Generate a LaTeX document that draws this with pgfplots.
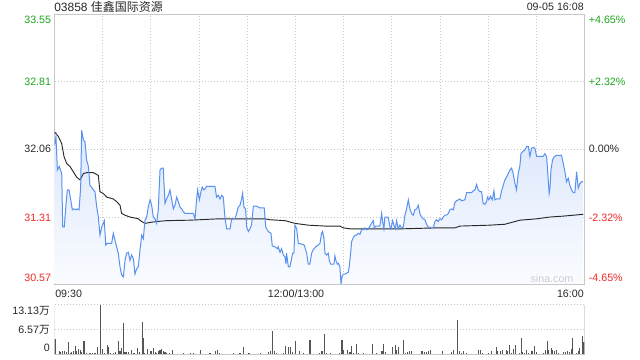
\documentclass[border=0pt]{standalone}
\usepackage{pgfplots}
\pgfplotsset{compat=1.18}
\usepackage{pgfplotstable}
\usepackage{fontspec}
\setmainfont{Liberation Sans}
\newfontfamily\cjk{Noto Sans CJK SC}
\definecolor{pline}{RGB}{88,145,240}
\definecolor{avgc}{RGB}{40,40,40}
\definecolor{gridc}{RGB}{200,200,200}
\definecolor{borderc}{RGB}{200,200,200}
\definecolor{upg}{RGB}{30,165,30}
\definecolor{dnr}{RGB}{240,40,40}
\definecolor{txt}{RGB}{40,40,40}
\definecolor{volc}{RGB}{85,85,85}
\definecolor{fillt}{RGB}{220,231,252}
\definecolor{fillb}{RGB}{250,252,255}
\definecolor{wm}{RGB}{205,205,205}

\pgfplotstableread{
m p
0 32.10
0.9 32.20
1.8 31.83
3.0 31.87
4.5 31.79
5.1 31.20
6.1 31.20
7.2 31.46
8.0 31.61
9.0 31.61
10.1 31.50
11.1 31.39
12.1 31.40
13.2 31.39
14.2 31.40
15.3 31.39
16.3 31.64
16.9 32.27
18.0 32.16
19.0 32.14
20.0 31.94
21.1 31.87
22.1 31.66
23.1 31.64
24.2 31.61
25.2 31.59
26.3 31.42
27.3 31.31
28.3 31.11
29.4 31.20
30.4 31.24
31.0 31.27
31.9 31.00
32.9 31.02
35.6 31.02
36.6 31.13
37.7 31.05
38.7 30.98
39.7 30.91
40.8 30.76
41.8 30.67
42.9 30.65
43.9 30.83
44.9 30.91
46.0 30.92
47.0 30.83
48.0 30.89
49.1 30.85
50.1 30.68
51.2 30.74
52.2 30.76
53.2 30.94
54.3 31.11
55.3 31.07
56.3 31.27
57.4 31.31
58.4 31.42
59.5 31.50
60.5 31.44
61.5 31.31
62.6 31.29
63.6 31.24
64.6 31.39
65.7 31.83
66.7 31.85
67.7 31.85
68.8 31.46
69.8 31.51
70.9 31.55
71.9 31.61
72.9 31.51
74.0 31.40
75.0 31.44
76.1 31.53
77.1 31.48
78.1 31.42
79.2 31.40
80.2 31.37
81.2 31.35
86.4 31.35
87.5 31.29
88.5 31.51
89.1 31.61
90.2 31.50
91.2 31.59
92.0 31.64
93.1 31.61
94.1 31.63
94.7 31.65
99.9 31.65
100.9 31.53
102.0 31.55
103.0 31.51
104.1 31.55
105.1 31.53
106.1 31.31
107.2 31.18
109.3 31.18
110.3 31.29
112.4 31.29
113.4 31.35
114.4 31.42
115.5 31.44
116.5 31.51
117.1 31.57
118.0 31.42
119.0 31.40
119.6 31.20
120.7 31.15
121.7 31.18
122.7 31.22
123.8 31.43
125.9 31.43
127.9 31.41
130.6 31.41
131.5 31.20
133.1 31.15
134.8 31.13
135.6 30.99
137.3 30.98
138.9 30.96
139.3 30.98
140.4 30.92
141.4 30.96
142.5 30.89
143.5 30.87
144.1 30.79
144.5 30.91
145.6 30.76
146.6 30.76
147.6 30.85
148.3 30.91
149.1 30.91
149.7 31.22
150.8 31.18
151.8 31.02
153.9 31.01
155.5 31.00
157.0 30.91
158.0 30.79
159.0 30.79
160.1 30.91
161.1 30.95
163.2 30.99
164.2 31.00
165.3 31.02
166.3 31.13
166.9 31.15
167.8 31.07
168.4 30.91
169.4 30.89
170.5 30.91
171.1 30.83
171.9 30.79
173.2 30.79
174.0 30.79
174.6 30.88
175.2 30.83
176.1 30.79
176.7 30.80
177.7 30.76
178.4 30.57
179.0 30.65
179.8 30.68
180.8 30.68
181.9 30.69
182.9 30.70
183.5 30.76
184.4 30.91
185.0 31.04
186.0 31.08
187.1 31.11
188.1 31.11
189.1 31.13
190.2 31.12
191.2 31.17
192.3 31.17
193.3 31.19
194.3 31.17
195.4 31.18
196.4 31.21
197.4 31.24
198.5 31.27
199.1 31.19
200.1 31.21
202.6 31.21
203.7 31.35
204.3 31.26
205.1 31.18
205.7 31.31
207.8 31.31
208.9 31.20
209.5 31.18
210.5 31.27
211.3 31.22
212.2 31.18
213.0 31.27
214.0 31.18
215.1 31.22
216.1 31.19
217.2 31.20
218.2 31.33
219.2 31.40
220.3 31.50
221.3 31.40
222.3 31.35
223.4 31.33
224.4 31.39
225.5 31.40
226.5 31.44
227.5 31.35
228.6 31.31
229.6 31.29
230.6 31.28
231.7 31.23
232.7 31.20
235.8 31.19
236.9 31.26
237.9 31.28
238.9 31.26
240.0 31.29
241.0 31.28
242.1 31.31
243.1 31.33
244.1 31.33
245.2 31.35
246.2 31.39
247.2 31.40
248.3 31.39
249.3 31.47
250.4 31.49
251.4 31.50
252.4 31.51
253.5 31.49
255.5 31.50
256.6 31.58
257.6 31.58
259.7 31.58
260.7 31.60
261.8 31.61
262.8 31.67
263.8 31.61
264.9 31.59
265.9 31.59
266.9 31.46
268.0 31.45
269.0 31.48
269.6 31.53
270.5 31.50
271.5 31.54
272.6 31.50
273.6 31.60
274.2 31.50
275.2 31.51
277.3 31.51
278.4 31.60
279.4 31.66
280.4 31.72
281.5 31.75
282.5 31.79
283.6 31.83
284.6 31.85
285.6 31.79
286.7 31.68
287.7 31.61
288.7 31.79
289.8 31.88
290.4 32.01
291.4 32.03
292.9 32.05
293.9 32.09
295.0 32.09
296.0 31.98
297.0 32.07
298.1 32.08
299.1 32.07
300.2 31.98
304.3 31.98
305.3 32.01
306.4 31.98
308.0 31.57
308.5 31.63
309.1 31.83
310.1 31.94
310.9 31.97
312.2 31.99
315.7 31.99
316.8 31.90
317.8 31.81
318.8 31.70
319.9 31.74
320.9 31.66
321.9 31.61
323.0 31.58
324.0 31.58
325.1 31.81
326.1 31.63
327.1 31.68
328.2 31.70
329.2 31.70
}\pricedata

\pgfplotstableread{
m a
0 32.25
2.4 32.20
4.5 32.12
5.9 31.98
7.6 31.90
9.6 31.87
11.7 31.81
13.8 31.75
15.9 31.72
18.0 31.79
20.0 31.80
24.2 31.80
27.3 31.77
28.3 31.59
30.4 31.57
32.5 31.53
36.6 31.51
38.7 31.48
40.8 31.44
41.8 31.35
43.9 31.33
47.0 31.31
52.2 31.29
54.3 31.26
56.3 31.24
59.5 31.25
63.6 31.26
69.8 31.27
84.3 31.275
102.0 31.29
118.6 31.29
131.0 31.29
134.2 31.28
143.5 31.27
149.7 31.24
158.0 31.22
168.4 31.21
177.7 31.21
179.8 31.19
184.0 31.18
217.2 31.18
237.9 31.19
249.3 31.19
252.4 31.21
271.1 31.22
280.4 31.23
289.8 31.275
300.2 31.29
308.5 31.31
316.8 31.32
329.2 31.34
}\avgdata

\pgfplotstableread{
m v
0.3 4.20
3.0 1.05
4.0 0.70
5.1 0.88
6.1 0.88
7.2 0.70
8.6 3.33
9.7 0.44
10.7 0.70
11.7 0.88
13.0 2.19
13.8 1.05
14.8 1.58
15.9 1.31
16.9 0.70
18.0 3.50
18.8 3.68
20.0 0.44
21.1 0.26
22.1 0.44
23.8 0.44
25.2 0.44
26.7 1.93
28.5 13.13
29.8 1.58
31.4 0.44
32.9 2.63
33.5 2.01
35.0 0.44
36.6 0.44
37.9 0.70
39.7 3.68
40.8 1.05
41.6 1.75
42.9 8.31
43.9 0.70
44.9 0.61
46.2 0.70
47.8 1.31
49.1 0.44
50.1 0.44
51.6 1.75
53.2 0.70
54.7 8.58
55.3 4.38
56.3 0.44
57.8 1.58
59.5 1.05
60.5 1.05
61.5 1.75
62.6 0.70
63.6 0.44
64.6 0.88
65.7 1.14
66.7 1.49
67.8 1.05
68.8 0.70
69.8 0.44
71.5 0.44
73.4 1.23
75.0 0.26
77.1 0.26
80.2 0.44
82.3 0.26
84.4 0.35
86.4 0.44
88.5 0.26
90.8 1.23
92.7 0.26
94.7 0.26
96.8 0.35
98.9 0.26
100.5 0.88
101.4 1.14
103.0 0.35
105.1 0.26
107.2 0.26
109.3 0.26
111.3 0.35
113.4 0.26
115.5 0.35
117.6 2.01
119.6 0.26
121.1 0.44
122.7 0.26
124.8 0.26
126.9 0.26
128.3 0.44
130.0 0.26
131.7 0.26
133.1 0.70
134.2 0.88
135.6 6.30
136.9 0.88
138.3 0.44
140.4 0.26
142.5 0.44
144.1 2.36
145.8 2.01
147.0 2.01
148.3 0.61
150.3 3.68
151.8 0.26
152.8 1.05
154.9 0.44
157.0 0.26
159.1 3.94
161.1 0.26
163.2 0.18
165.1 0.44
166.1 0.88
167.1 0.88
168.0 5.43
169.2 0.35
170.3 0.26
171.9 0.35
173.4 0.26
175.4 0.26
177.5 0.44
179.0 3.94
180.2 1.31
181.7 0.26
182.7 1.31
184.0 0.70
185.2 2.36
186.4 0.44
187.9 2.89
189.3 0.35
191.0 0.26
192.5 0.44
194.1 0.26
196.2 0.26
197.9 2.89
199.3 0.26
200.6 0.44
202.4 0.26
203.9 0.88
205.1 2.80
206.0 0.70
207.6 0.26
209.3 0.26
210.7 1.93
212.2 2.63
213.2 1.31
214.0 2.01
215.5 0.26
217.1 3.94
218.4 0.44
219.6 0.70
220.9 1.05
222.1 0.88
223.6 0.26
225.2 0.26
227.3 0.26
228.8 0.88
230.4 0.61
231.5 0.70
232.9 0.88
234.0 1.14
235.6 0.26
237.7 0.26
239.8 0.26
241.8 0.88
243.9 0.26
246.0 0.26
247.4 0.70
248.7 1.14
250.8 9.19
252.2 1.05
253.7 0.35
254.9 1.05
256.4 0.35
258.4 0.26
260.5 0.26
262.6 0.26
264.0 1.14
265.1 1.31
266.7 0.35
268.8 0.26
270.3 0.35
271.9 1.05
273.6 0.26
275.0 2.01
276.1 0.88
277.5 0.88
278.8 1.31
280.2 0.26
281.3 1.14
282.3 1.05
283.3 2.63
284.8 0.44
285.6 1.58
286.9 2.63
288.1 0.26
289.4 0.44
290.6 4.38
291.6 0.70
292.7 0.44
293.7 1.31
295.2 0.35
296.8 0.88
297.9 1.05
298.9 2.36
299.9 0.70
301.4 0.26
303.1 0.26
304.7 0.44
305.5 1.31
306.8 3.68
307.8 1.31
309.3 1.75
310.3 1.14
311.4 1.05
312.6 1.14
313.8 0.44
315.5 0.26
317.2 0.70
318.0 0.70
319.7 0.88
320.7 0.70
321.7 1.58
322.8 4.38
323.8 0.26
324.8 0.44
326.3 0.88
327.1 1.75
328.0 0.26
328.8 4.99
329.7 3.24
}\voldata

\begin{document}
\begin{tikzpicture}
\path[use as bounding box] (0pt,0pt) rectangle (480pt,270pt);
\fontsize{8}{9.6}\selectfont
% main price panel
\begin{axis}[
  at={(40.875pt,57pt)}, anchor=south west,
  scale only axis, width=397.5pt, height=202.275pt,
  xmin=0, xmax=330, ymin=30.57, ymax=33.55,
  xtick={30,60,...,300}, ytick={31.31,32.06,32.81},
  xticklabels={}, yticklabels={},
  major tick length=0pt,
  grid=major,
  major grid style={draw=gridc, line width=0.6pt, dash pattern=on 0.75pt off 1.5pt},
  axis line style={draw=borderc, line width=0.6pt},
  axis on top=false,
]
\addplot[draw=none, top color=fillt, bottom color=fillb] table[x=m,y=p]{\pricedata} -- (axis cs:329.2,30.57) -- (axis cs:0,30.57) -- cycle;
\addplot[draw=avgc, line width=0.7pt, no markers] table[x=m,y=a]{\avgdata};
\addplot[draw=pline, line width=0.75pt, no markers] table[x=m,y=p]{\pricedata};
\end{axis}
% volume panel
\begin{axis}[
  at={(40.875pt,3.975pt)}, anchor=south west,
  scale only axis, width=397.5pt, height=37.5pt,
  xmin=0, xmax=330, ymin=0, ymax=13.13,
  xtick=\empty, ytick={6.57,13.13}, yticklabels={},
  major tick length=0pt,
  ymajorgrids,
  major grid style={draw=gridc, line width=0.6pt, dash pattern=on 0.75pt off 1.5pt},
  axis line style={draw=none},
]
\addplot[ycomb, draw=volc, line width=0.8pt, no markers] table[x=m,y=v]{\voldata};
\draw[borderc, line width=0.6pt] (rel axis cs:0,0) -- (rel axis cs:1,0);
\draw[borderc, line width=0.6pt] (rel axis cs:0,0) -- (rel axis cs:0,1);
\draw[borderc, line width=0.6pt] (rel axis cs:1,0) -- (rel axis cs:1,1);
\end{axis}
% titles
\node[anchor=west, text=txt, inner sep=0pt, font=\fontsize{9}{10}\selectfont] at (40.5pt,264.5pt) {03858 {\cjk 佳鑫国际资源}};
\node[anchor=east, text=txt, inner sep=0pt] at (438pt,264.5pt) {09-05 16:08};
% left price labels
\node[anchor=east, text=upg, inner sep=0pt] at (38.5pt,255pt) {33.55};
\node[anchor=east, text=upg, inner sep=0pt] at (38.5pt,208.3pt) {32.81};
\node[anchor=east, text=txt, inner sep=0pt] at (38.5pt,158pt) {32.06};
\node[anchor=east, text=dnr, inner sep=0pt] at (38.5pt,107pt) {31.31};
\node[anchor=east, text=dnr, inner sep=0pt] at (38.5pt,61.7pt) {30.57};
% right percent labels
\node[anchor=west, text=upg, inner sep=0pt] at (441.5pt,255pt) {+4.65\%};
\node[anchor=west, text=upg, inner sep=0pt] at (441.5pt,208.3pt) {+2.32\%};
\node[anchor=west, text=txt, inner sep=0pt] at (441.5pt,158pt) {0.00\%};
\node[anchor=west, text=dnr, inner sep=0pt] at (441.5pt,107pt) {-2.32\%};
\node[anchor=west, text=dnr, inner sep=0pt] at (441.5pt,61.7pt) {-4.65\%};
% time labels
\node[anchor=west, text=txt, inner sep=0pt] at (41.25pt,50pt) {09:30};
\node[anchor=center, text=txt, inner sep=0pt] at (222pt,50pt) {12:00/13:00};
\node[anchor=east, text=txt, inner sep=0pt] at (438pt,50pt) {16:00};
% watermark
\node[text=wm, inner sep=0pt] at (414pt,60.75pt) {sina.com};
% volume labels
\node[anchor=east, text=txt, inner sep=0pt] at (37.5pt,36.75pt) {13.13{\cjk 万}};
\node[anchor=east, text=txt, inner sep=0pt] at (37.5pt,22.7pt) {6.57{\cjk 万}};
\node[anchor=east, text=txt, inner sep=0pt] at (37.5pt,8.8pt) {0};
\end{tikzpicture}
\end{document}
